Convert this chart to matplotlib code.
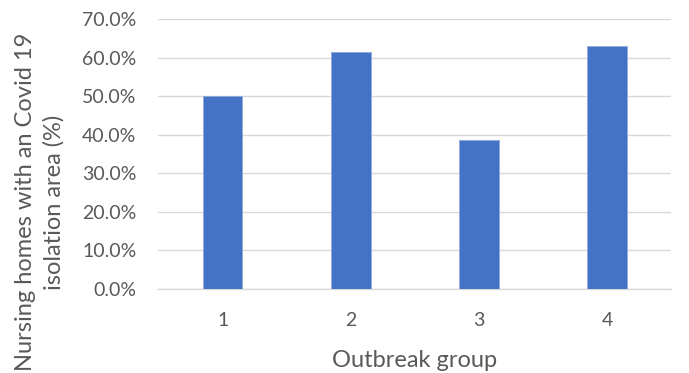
import numpy as np
import matplotlib.pyplot as plt
from matplotlib.ticker import PercentFormatter

groups = ['1', '2', '3', '4']
isolation_pct = [50.0, 61.5, 38.5, 63.0]
y_ticks = [0, 10, 20, 30, 40, 50, 60, 70]

plt.rcParams['font.family'] = ['Lato', 'DejaVu Sans']
grey = '#595959'

fig = plt.figure(figsize=(6.89, 3.73), dpi=100)
ax = fig.add_axes([0.230, 0.226, 0.7446, 0.723])

x = np.arange(len(groups))
ax.bar(x, isolation_pct, width=0.31, color='#4472C4', edgecolor='#8FAADC',
       linewidth=0.6, zorder=3)

ax.set_xlim(-0.5, len(groups) - 0.5)
ax.set_ylim(0, 70)
ax.set_yticks(y_ticks)
ax.yaxis.set_major_formatter(PercentFormatter(decimals=1))
ax.set_xticks(x)
ax.set_xticklabels(groups)
ax.grid(axis='y', color='#d9d9d9', linewidth=1.0, zorder=0)

for s in ['top', 'right', 'left']:
    ax.spines[s].set_visible(False)
ax.spines['bottom'].set_color('#d9d9d9')
ax.spines['bottom'].set_linewidth(1.0)
ax.tick_params(axis='both', length=0, labelsize=14, colors=grey)
ax.tick_params(axis='y', pad=16)
ax.tick_params(axis='x', pad=17)

ax.set_xlabel('Outbreak group', fontsize=17, color=grey, labelpad=15)

# y title sits a bit lower than the axes centre, like the Excel original
fig.text(0.058, 0.458, 'Nursing homes with an Covid 19\nisolation area (%)',
         rotation=90, ha='center', va='center', multialignment='center',
         fontsize=17, color=grey, linespacing=1.4)

fig.savefig('out.png', dpi=100)
